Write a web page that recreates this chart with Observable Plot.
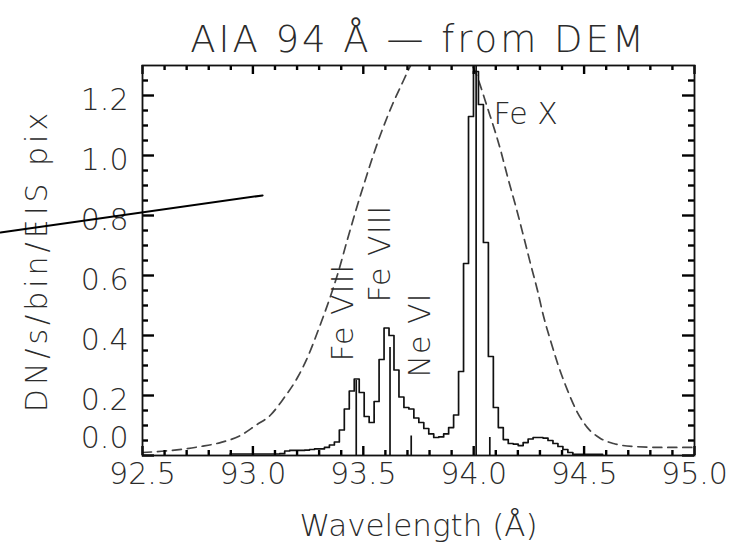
<!DOCTYPE html>
<html>
<head>
<meta charset="utf-8">
<script src="https://cdn.jsdelivr.net/npm/d3@7"></script>
<script src="https://cdn.jsdelivr.net/npm/@observablehq/plot@0.6"></script>
<style>
  html, body { margin: 0; padding: 0; background: #fff; }
  svg text { font-weight: 200; }
  .ttl text { letter-spacing: 3px; }
  .ylab text { letter-spacing: 4px; }
  .lab text { letter-spacing: 1px; }
</style>
</head>
<body>
<div id="chart"></div>
<script>
// ---- data ----
const titleText = "AIA 94 Å — from DEM";
const xLabel = "Wavelength (Å)";
const yLabel = "DN/s/bin/EIS pix";

// histogram (EIS spectrum folded into AIA 94 response), regular wavelength bins
const binStart = 92.8965;
const binWidth = 0.0225;
const flux = [
  0.005, 0.005, 0.005, 0.005, 0.005, 0.005, 0.005, 0.005, 0.005, 0.005,
  0.006, 0.015, 0.017, 0.017, 0.017, 0.018, 0.020, 0.022, 0.022, 0.027,
  0.035, 0.045, 0.085, 0.155, 0.215, 0.255, 0.210, 0.130, 0.110, 0.180,
  0.320, 0.425, 0.400, 0.285, 0.195, 0.160, 0.155, 0.125, 0.110, 0.090,
  0.072, 0.060, 0.062, 0.072, 0.093, 0.135, 0.280, 0.640, 1.130, 1.280,
  1.170, 0.710, 0.330, 0.160, 0.093, 0.053, 0.040, 0.038, 0.033, 0.043,
  0.055, 0.060, 0.060, 0.058, 0.050, 0.040, 0.030, 0.020, 0.010, 0.004,
  0.004, 0.004, 0.004, 0.004, 0.004
];

// AIA 94 response (scaled), dashed
const respWl = [92.5, 92.604, 92.763, 92.853, 92.944, 93.012, 93.08, 93.139, 93.202, 93.252,
  93.297, 93.351, 93.388, 93.428, 93.501, 93.578, 93.632, 93.682, 93.714, 93.78, 93.85,
  93.93, 94.017, 94.062, 94.121, 94.153, 94.198, 94.226, 94.257, 94.289, 94.316, 94.348,
  94.38, 94.425, 94.47, 94.515, 94.574, 94.633, 94.724, 94.86, 95.0];
const respVal = [0.01, 0.015, 0.03, 0.043, 0.067, 0.1, 0.135, 0.19, 0.26, 0.335,
  0.42, 0.53, 0.615, 0.72, 0.9, 1.07, 1.17, 1.25, 1.3, 1.38, 1.42,
  1.38, 1.26, 1.16, 1.02, 0.93, 0.81, 0.73, 0.64, 0.55, 0.465, 0.383,
  0.307, 0.217, 0.143, 0.093, 0.057, 0.04, 0.03, 0.027, 0.027];

// individual lines (sticks)
const lineWl = [93.468, 93.621, 93.717, 94.011, 94.073];
const lineH  = [0.25, 0.36, 0.065, 1.5, 0.06];

// line labels
const labText = ["Fe VIII", "Fe VIII", "Ne VI", "Fe X"];
const labWl   = [93.41, 93.578, 93.759, 94.09];
const labY    = [0.313, 0.51, 0.26, 1.137];
const labRot  = [-90, -90, -90, 0];

// annotation stroke
const annotWl = [91.857, 93.044];
const annotY  = [0.743, 0.867];

// ticks
const xMajor = [92.5, 93.0, 93.5, 94.0, 94.5, 95.0];
const xMinor = [92.6, 92.7, 92.8, 92.9, 93.1, 93.2, 93.3, 93.4, 93.6, 93.7, 93.8, 93.9,
  94.1, 94.2, 94.3, 94.4, 94.6, 94.7, 94.8, 94.9];
const yMajor = [0.0, 0.2, 0.4, 0.6, 0.8, 1.0, 1.2];
const yMinor = [0.05, 0.1, 0.15, 0.25, 0.3, 0.35, 0.45, 0.5, 0.55, 0.65, 0.7, 0.75,
  0.85, 0.9, 0.95, 1.05, 1.1, 1.15, 1.25];

// ---- build ----
const W = 752, H = 555, mL = 142, mR = 58, mT = 65, mB = 100;
const fw = W - mL - mR, fh = H - mT - mB;
const X0 = 92.5, X1 = 95.0, Y0 = 0, Y1 = 1.3;
const tx = len => len * (Y1 - Y0) / fh;   // px -> y data units
const ty = len => len * (X1 - X0) / fw;   // px -> x data units

const xTickRec = [
  ...xMajor.map(v => ({x: v, a: Y0, b: Y0 + tx(9)})),
  ...xMajor.map(v => ({x: v, a: Y1, b: Y1 - tx(9)})),
  ...xMinor.map(v => ({x: v, a: Y0, b: Y0 + tx(5)})),
  ...xMinor.map(v => ({x: v, a: Y1, b: Y1 - tx(5)}))
];
const yTickRec = [
  ...yMajor.map(v => ({y: v, a: X0, b: X0 + ty(12)})),
  ...yMajor.map(v => ({y: v, a: X1, b: X1 - ty(12)})),
  ...yMinor.map(v => ({y: v, a: X0, b: X0 + ty(6)})),
  ...yMinor.map(v => ({y: v, a: X1, b: X1 - ty(6)}))
];

const hist = flux.map((v, i) => ({x: binStart + i * binWidth, y: v}));
hist.push({x: binStart + flux.length * binWidth, y: flux[flux.length - 1]});
const resp = respWl.map((x, i) => ({x, y: respVal[i]}));
const sticks = lineWl.map((x, i) => ({x, y: lineH[i]}));
const labs = labText.map((t, i) => ({t, x: labWl[i], y: labY[i], r: labRot[i]}));
const annot = annotWl.map((x, i) => ({x, y: annotY[i]}));
const xLab = xMajor.map(v => ({v}));
const yLab = yMajor.map(v => ({v}));
const fmt = d3.format(".1f");
const ink = "#000", txt = "#2b2b2b";
const FONT = "'DejaVu Sans', 'Liberation Sans', sans-serif";

const chart = Plot.plot({
  width: W, height: H,
  marginLeft: mL, marginRight: mR, marginTop: mT, marginBottom: mB,
  x: {domain: [X0, X1], axis: null},
  y: {domain: [Y0, Y1], axis: null},
  style: {fontFamily: FONT, background: "#fff", color: txt},
  marks: [
    // dashed response
    Plot.line(resp, {x: "x", y: "y", curve: "monotone-x", stroke: "#444", strokeWidth: 1.7, strokeDasharray: "9,6", clip: true}),
    // spectrum histogram
    Plot.line(hist, {x: "x", y: "y", curve: "step-after", stroke: "#111", strokeWidth: 1.7, clip: true}),
    // sticks
    Plot.ruleX(sticks, {x: "x", y1: 0, y2: "y", stroke: "#111", strokeWidth: 1.7, clip: true}),
    // inward ticks on all four sides
    Plot.ruleX(xTickRec, {x: "x", y1: "a", y2: "b", stroke: ink, strokeWidth: 2.4}),
    Plot.ruleY(yTickRec, {y: "y", x1: "a", x2: "b", stroke: ink, strokeWidth: 2.4}),
    Plot.frame({stroke: "#111", strokeWidth: 1.8}),
    // tick labels
    Plot.text(xLab, {x: "v", frameAnchor: "bottom", dy: 28, text: d => fmt(d.v), textAnchor: "middle", fontSize: 30, fill: txt}),
    Plot.text(yLab.filter(d => d.v > 0), {y: "v", frameAnchor: "left", dx: -14, dy: 5, textAnchor: "end", text: d => fmt(d.v), fontSize: 30, fill: txt}),
    Plot.text(yLab.filter(d => d.v === 0), {y: "v", frameAnchor: "left", dx: -14, dy: -17, textAnchor: "end", text: d => fmt(d.v), fontSize: 30, fill: txt}),
    // line labels
    Plot.text(labs.filter(d => d.r !== 0), {x: "x", y: "y", text: "t", rotate: -90, textAnchor: "start", fontSize: 30, fill: txt, className: "lab"}),
    Plot.text(labs.filter(d => d.r === 0), {x: "x", y: "y", text: "t", textAnchor: "start", fontSize: 30, fill: txt}),
    // titles
    Plot.text([titleText], {frameAnchor: "top", dy: -40, text: d => d, textAnchor: "middle", fontSize: 37, fill: txt, className: "ttl"}),
    Plot.text([xLabel], {frameAnchor: "bottom", dy: 80, text: d => d, textAnchor: "middle", fontSize: 31, fill: txt}),
    Plot.text([yLabel], {frameAnchor: "left", dx: -105, rotate: -90, text: d => d, textAnchor: "middle", fontSize: 30, fill: txt, className: "ylab"}),
    // annotation stroke
    Plot.line(annot, {x: "x", y: "y", stroke: "#000", strokeWidth: 2})
  ]
});
document.getElementById("chart").appendChild(chart);
</script>
</body>
</html>
